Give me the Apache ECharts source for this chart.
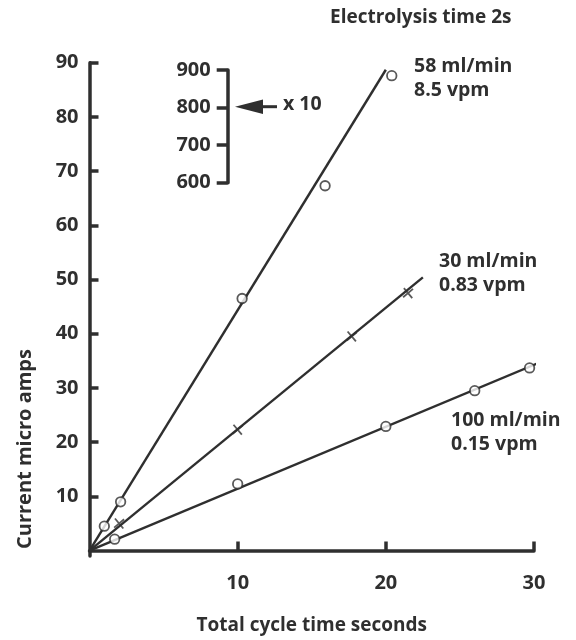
<!DOCTYPE html>
<html>
<head>
<meta charset="utf-8">
<script src="https://cdn.jsdelivr.net/npm/echarts@6/dist/echarts.min.js"></script>
<style>html,body{margin:0;padding:0;background:#fff;}#c{width:576px;height:640px;}</style>
</head>
<body>
<div id="c"></div>
<script>
// ---- data ----
const xTicks = [10, 20, 30];
const yTicks = [10, 20, 30, 40, 50, 60, 70, 80, 90];
const insetTicks = [600, 700, 800, 900];

const flow58X = [1.0, 2.1, 10.3, 15.9, 20.4];
const flow58Y = [4.5, 9.0, 46.5, 67.3, 87.6];
const fit58 = [[0, 0], [20.0, 88.7]];

const flow30X = [2.0, 10.0, 17.7, 21.5];
const flow30Y = [5.0, 22.3, 39.5, 47.5];
const fit30 = [[0, 0], [22.5, 50.4]];

const flow100X = [1.7, 10.0, 20.0, 26.0, 29.7];
const flow100Y = [2.1, 12.3, 22.9, 29.5, 33.7];
const fit100 = [[0, 0], [30.3, 34.6]];

const labels = {
  title: 'Electrolysis time 2s',
  s58: ['58 ml/min', '8.5 vpm'],
  s30: ['30 ml/min', '0.83 vpm'],
  s100: ['100 ml/min', '0.15 vpm'],
  xName: 'Total cycle time seconds',
  yName: 'Current micro amps',
  scale: 'x 10'
};

// ---- chart ----
const C = '#2f2f2f';
const FONT = '"Open Sans", "Noto Sans", sans-serif';
const zip = (a, b) => a.map((v, i) => [v, b[i]]);

const chart = echarts.init(document.getElementById('c'), null, {renderer: 'canvas'});

const circleStyle = {color: '#ffffff', borderColor: C, borderWidth: 1.8};
const lineSeries = (d) => ({
  type: 'line', data: d, showSymbol: false, symbol: 'none', clip: false,
  lineStyle: {color: C, width: 2.4}, silent: true, z: 2, xAxisIndex: 0, yAxisIndex: 0
});

chart.setOption({
  animation: false,
  backgroundColor: '#ffffff',
  textStyle: {fontFamily: FONT},
  grid: [
    {left: 89.5, right: 42, top: 62.7, bottom: 78.3},
    {left: 227.7, width: 20, top: 70, height: 112.7}
  ],
  xAxis: [
    {
      type: 'value', gridIndex: 0, min: 0, max: 30,
      axisLine: {show: true, lineStyle: {color: C, width: 3.5}},
      axisTick: {show: true, inside: true, length: 9, lineStyle: {color: C, width: 3.5}, customValues: xTicks},
      axisLabel: {color: C, fontSize: 20, fontWeight: 'bold', margin: 17, customValues: xTicks, fontFamily: FONT},
      splitLine: {show: false},
      name: labels.xName, nameLocation: 'middle', nameGap: 60,
      nameTextStyle: {color: C, fontSize: 19, fontWeight: 'bold', fontFamily: FONT}
    },
    {type: 'value', gridIndex: 1, min: 0, max: 1, show: false}
  ],
  yAxis: [
    {
      type: 'value', gridIndex: 0, min: -1, max: 90,
      axisLine: {show: true, lineStyle: {color: C, width: 3.5}},
      axisTick: {show: true, inside: true, length: 9, lineStyle: {color: C, width: 3.5}, customValues: yTicks},
      axisLabel: {color: C, fontSize: 20, fontWeight: 'bold', margin: 11, customValues: yTicks, fontFamily: FONT},
      splitLine: {show: false}
    },
    {
      type: 'value', gridIndex: 1, min: 600, max: 900, interval: 100, position: 'left',
      axisLine: {show: true, lineStyle: {color: C, width: 3.5}},
      axisTick: {show: true, inside: false, length: 11, lineStyle: {color: C, width: 3.5}},
      axisLabel: {color: C, fontSize: 20, fontWeight: 'bold', margin: 17, fontFamily: FONT},
      splitLine: {show: false}
    }
  ],
  series: [
    lineSeries(fit58),
    lineSeries(fit30),
    lineSeries(fit100),
    {
      type: 'scatter', data: zip(flow58X, flow58Y), symbol: 'circle', symbolSize: 9.5,
      itemStyle: circleStyle, z: 5, xAxisIndex: 0, yAxisIndex: 0
    },
    {
      type: 'scatter', data: zip(flow30X, flow30Y),
      symbol: 'path://M0,-10L0,10M-10,0L10,0', symbolSize: 13, symbolRotate: 40,
      itemStyle: {color: 'none', borderColor: C, borderWidth: 1.8}, z: 5, xAxisIndex: 0, yAxisIndex: 0
    },
    {
      type: 'scatter', data: zip(flow100X, flow100Y), symbol: 'circle', symbolSize: 9.5,
      itemStyle: circleStyle, z: 5, xAxisIndex: 0, yAxisIndex: 0
    }
  ],
  graphic: [
    {type: 'text', left: 330, top: 8, style: {text: labels.title, fill: C, font: 'bold 19px ' + FONT}},
    {type: 'text', left: 414, top: 54, style: {text: labels.s58.join('\n'), fill: C, font: 'bold 19.5px ' + FONT, lineHeight: 24}},
    {type: 'text', left: 439, top: 249, style: {text: labels.s30.join('\n'), fill: C, font: 'bold 19.5px ' + FONT, lineHeight: 24}},
    {type: 'text', left: 451, top: 408, style: {text: labels.s100.join('\n'), fill: C, font: 'bold 19.5px ' + FONT, lineHeight: 24}},
    {type: 'text', x: 25, y: 449, rotation: Math.PI / 2, style: {text: labels.yName, fill: C, font: 'bold 20px ' + FONT, textAlign: 'center', textVerticalAlign: 'middle'}, originX: 0, originY: 0},
    {type: 'polygon', shape: {points: [[235, 106.7], [263, 99.5], [263, 113.9]]}, style: {fill: C}},
    {type: 'line', shape: {x1: 262, y1: 106.7, x2: 277, y2: 106.7}, style: {stroke: C, lineWidth: 3}},
    {type: 'text', left: 283, top: 94, style: {text: labels.scale, fill: C, font: 'bold 19.5px ' + FONT}}
  ]
});
</script>
</body>
</html>
